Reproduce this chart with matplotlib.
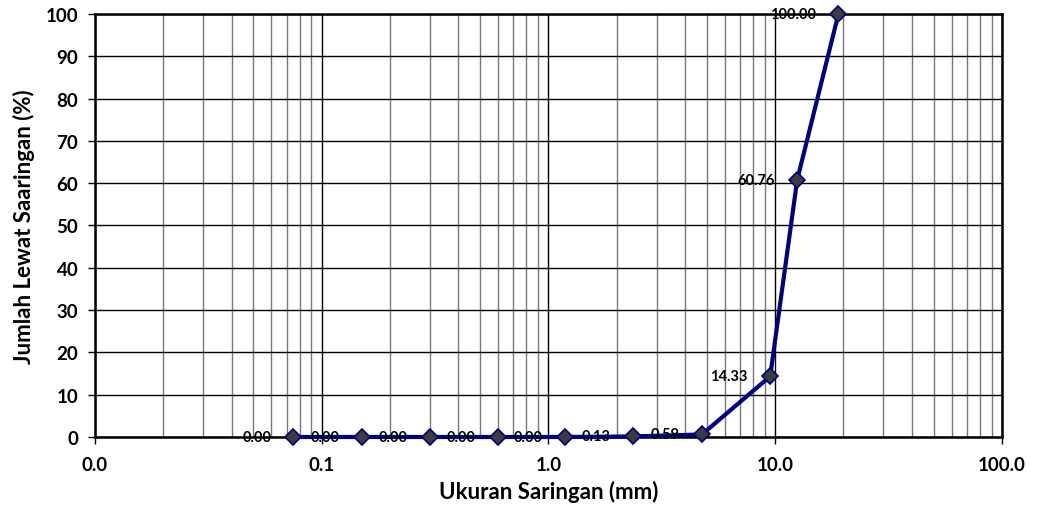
import numpy as np
import matplotlib.pyplot as plt
import matplotlib.ticker as ticker

# sieve sizes (mm) and percent passing
sieve_mm = [0.075, 0.15, 0.3, 0.6, 1.18, 2.36, 4.75, 9.5, 12.5, 19.0]
passing = [0.00, 0.00, 0.00, 0.00, 0.00, 0.13, 0.59, 14.33, 60.76, 100.00]
x_ticks = [0.01, 0.1, 1, 10, 100]
x_tick_labels = ["0.0", "0.1", "1.0", "10.0", "100.0"]

plt.rcParams['font.family'] = ['Lato', 'DejaVu Sans']


def main():
    fig = plt.figure(figsize=(10.37, 5.10), dpi=100)
    ax = fig.add_axes([0.0916, 0.1412, 0.8746, 0.8294])

    ax.set_xscale('log')
    ax.set_xlim(0.01, 100)
    ax.set_ylim(0, 100)

    # grid
    ax.xaxis.set_minor_locator(ticker.LogLocator(base=10, subs=np.arange(2, 10)))
    ax.xaxis.set_minor_formatter(ticker.NullFormatter())
    ax.grid(which='major', axis='both', color='black', linewidth=1.0)
    ax.grid(which='minor', axis='x', color='#777777', linewidth=1.0)
    ax.set_axisbelow(True)

    # line
    ax.plot(sieve_mm, passing, color='#000080', linewidth=3, marker='D',
            markersize=8, markerfacecolor='#3c3c3c', markeredgecolor='#000080',
            markeredgewidth=1.2, zorder=3, clip_on=False)

    # data labels
    for x, y in zip(sieve_mm, passing):
        ax.annotate('%.2f' % y, (x, y), xytext=(-16, 0), textcoords='offset points',
                    ha='right', va='center', fontsize=10.5, fontweight='bold', zorder=4)

    ax.set_xticks(x_ticks)
    ax.set_xticklabels(x_tick_labels)
    ax.yaxis.set_major_locator(ticker.MultipleLocator(10))

    ax.tick_params(which='major', axis='both', direction='out', length=5,
                   width=1, labelsize=13.5)
    ax.tick_params(axis='x', pad=9)
    ax.tick_params(axis='y', pad=7)
    ax.tick_params(which='minor', axis='x', length=0)
    for lab in ax.get_xticklabels() + ax.get_yticklabels():
        lab.set_fontweight('bold')

    for s in ax.spines.values():
        s.set_linewidth(1.8)
        s.set_color('black')

    ax.set_xlabel('Ukuran Saringan (mm)', fontsize=16, fontweight='bold', labelpad=5)
    ax.set_ylabel('Jumlah Lewat Saaringan (%)', fontsize=16, fontweight='bold', labelpad=8)

    fig.savefig('out.png', dpi=100)


if __name__ == "__main__":
    main()
